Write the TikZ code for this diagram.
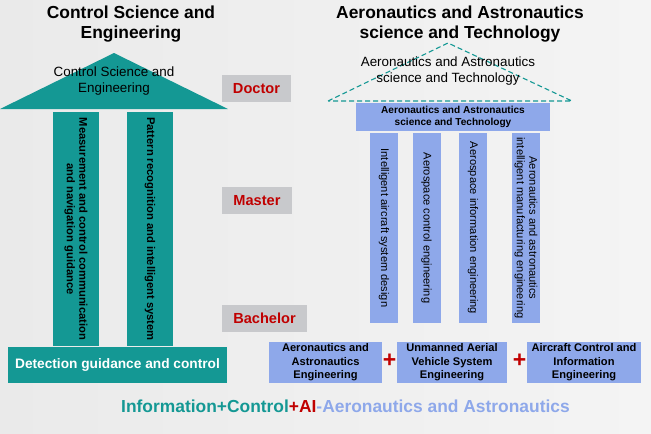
\documentclass[tikz,border=0pt]{standalone}
\usepackage{fontspec}
\setmainfont{Liberation Sans}
\definecolor{tealc}{RGB}{20,152,148}
\definecolor{bluec}{RGB}{142,168,234}
\definecolor{grayc}{RGB}{200,201,204}
\definecolor{redc}{RGB}{192,0,0}
\definecolor{bgl}{RGB}{234,234,234}
\definecolor{bgr}{RGB}{244,244,244}
\tikzset{
 title/.style={align=center,font=\fontsize{17.4}{19.5}\selectfont\bfseries},
 roof/.style={align=center,font=\fontsize{13.4}{15.5}\selectfont,text=black},
 degree/.style={fill=grayc,text=redc,font=\fontsize{14.6}{16}\selectfont\bfseries,minimum height=27pt,inner xsep=11pt,inner ysep=0pt},
 tpillar/.style={fill=tealc,rotate=-90,minimum height=46pt,minimum width=234pt,inner sep=0pt,align=center,font=\fontsize{11.2}{12.5}\selectfont\bfseries},
 bpillar/.style={fill=bluec,rotate=-90,minimum height=28pt,minimum width=190pt,inner sep=0pt,align=center,font=\fontsize{11.1}{12.5}\selectfont},
 bbox/.style={fill=bluec,inner sep=0pt,align=center,font=\fontsize{11.1}{13.5}\selectfont\bfseries},
 plus/.style={text=redc,font=\fontsize{23}{23}\selectfont\bfseries}
}
\begin{document}
\begin{tikzpicture}[x=1pt,y=-1pt]
\useasboundingbox (0,0) rectangle (651,434);
\shade[left color=bgl,right color=bgr](0,0)rectangle(651,434);
% left side
\node[title](ltitle) at (131,24) {Control Science and\\Engineering};
\fill[tealc](0,109)--(114,53)--(228,109)--cycle;
\node[roof](lroof) at (114,81) {Control Science and\\Engineering};
\node[tpillar](lp1) at (76,229) {Measurement and control communication\\and navigation guidance};
\node[tpillar](lp2) at (150,229) {Pattern recognition and intelligent system};
\node[fill=tealc,text=white,minimum width=219pt,minimum height=36pt,inner sep=0pt,font=\fontsize{13.7}{15}\selectfont\bfseries](lbase) at (117.5,365) {Detection guidance and control};
% degrees
\node[degree](doc) at (256.5,88.5) {Doctor};
\node[degree](mas) at (257,200.5) {Master};
\node[degree](bac) at (264.5,318.5) {Bachelor};
% right side
\node[title](rtitle) at (460,24) {Aeronautics and Astronautics\\science and Technology};
\draw[tealc,dash pattern=on 5pt off 3pt,line width=1.1pt](328,101)--(448,43)--(572,101)--cycle;
\node[roof](rroof) at (448,71) {Aeronautics and Astronautics\\science and Technology};
\node[fill=bluec,minimum width=194pt,minimum height=28pt,inner sep=0pt,align=center,font=\fontsize{10.1}{12}\selectfont\bfseries](rtop) at (453,117) {Aeronautics and Astronautics\\science and Technology};
\node[bpillar](rp1) at (384,228) {Intelligent aircraft system design};
\node[bpillar](rp2) at (426.5,228) {Aerospace control engineering};
\node[bpillar](rp3) at (473,228) {Aerospace information engineering};
\node[bpillar](rp4) at (526,228) {Aeronautics and astronautics\\intelligent manufacturing engineering};
\node[bbox,minimum width=113pt,minimum height=41pt](rb1) at (325.5,362.5) {Aeronautics and\\Astronautics\\Engineering};
\node[bbox,minimum width=110pt,minimum height=41pt](rb2) at (452,362.5) {Unmanned Aerial\\Vehicle System\\Engineering};
\node[bbox,minimum width=114pt,minimum height=41pt](rb3) at (584,362.5) {Aircraft Control and\\Information\\Engineering};
\node[plus](pl1) at (389.5,361) {+};
\node[plus](pl2) at (519.5,361) {+};
% motto
\node[font=\fontsize{17.4}{19}\selectfont\bfseries](motto) at (345.5,406) {\textcolor{tealc}{Information+Control}\textcolor{redc}{+AI}\textcolor{bluec}{-Aeronautics and Astronautics}};
\end{tikzpicture}
\end{document}
